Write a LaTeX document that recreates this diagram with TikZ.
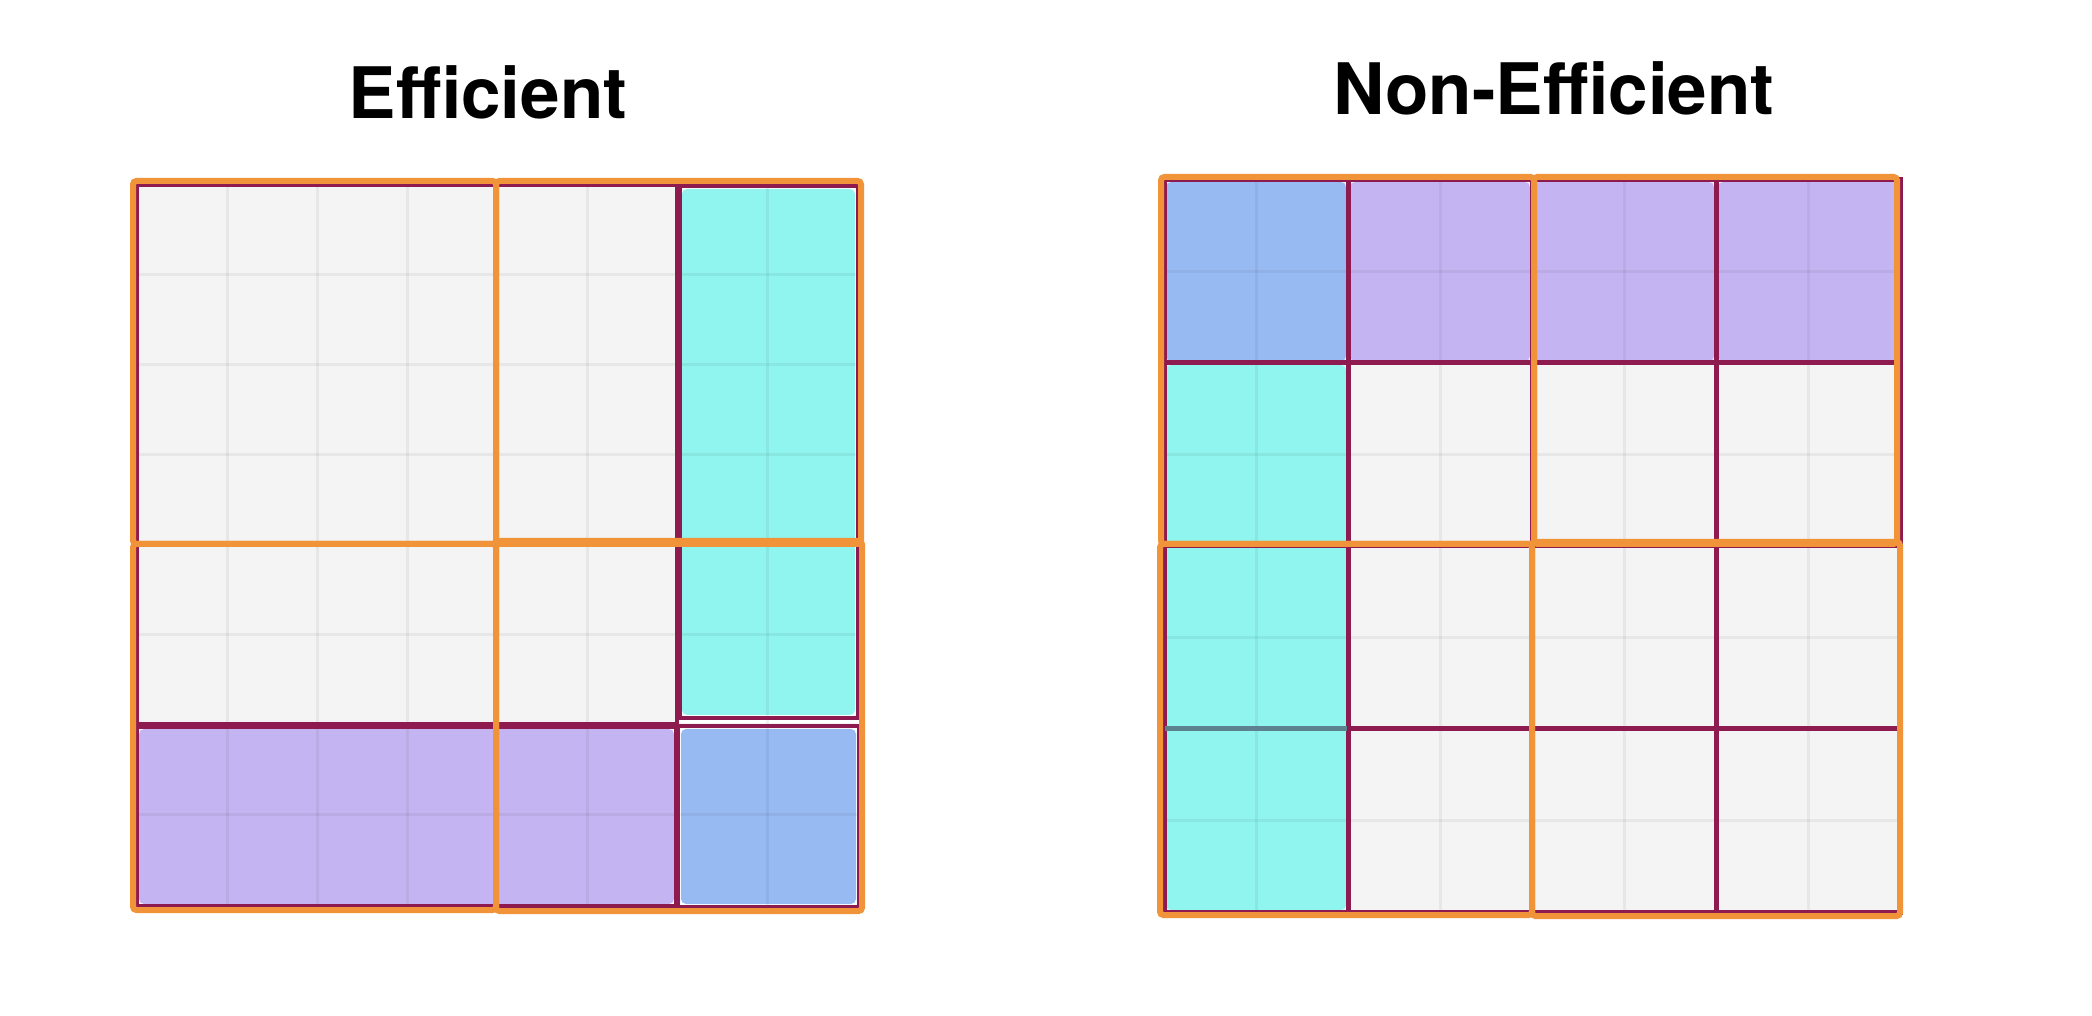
\documentclass[tikz,border=0pt]{standalone}
\usepackage{fontspec}
\setmainfont{TeX Gyre Heros}
\definecolor{cellwhite}{HTML}{F4F4F4}
\definecolor{tealfill}{HTML}{90F5EE}
\definecolor{purplefill}{HTML}{C4B5F2}
\definecolor{bluefill}{HTML}{98BAF3}
\definecolor{tilemaroon}{HTML}{8E1B50}
\definecolor{tileorange}{HTML}{F19439}
\definecolor{tealline}{HTML}{5C8290}
\begin{document}
\begin{tikzpicture}[x=0.3pt,y=-0.3pt,
  colfill/.style={fill=#1, rounded corners=1.5pt},
  cellline/.style={draw=black, draw opacity=0.05, line width=0.9pt},
  tileborder/.style={draw=tilemaroon, line width=1.1pt},
  maroonline/.style={draw=tilemaroon, line width=1.5pt},
  orangebox/.style={draw=tileorange, line width=1.8pt, rounded corners=1pt},
  headline/.style={font=\bfseries\fontsize{21.3}{24}\selectfont, anchor=base}]
\useasboundingbox[fill=white] (0,0) rectangle (2092,1016);

% titles
\node[headline] (t1) at (488,119) {Efficient};
\node[headline] (t2) at (1554,115) {Non-Efficient};

% ---------- left grid (efficient) ----------
\fill[cellwhite] (137,185) rectangle (677,724);
\fill[colfill=tealfill] (682,189) rectangle (855,715);
\fill[colfill=purplefill] (139,729) rectangle (674,904);
\fill[colfill=bluefill] (681,729) rectangle (856,904);
\foreach \i in {1,...,7} {
  \draw[cellline] ({137+90*\i},186) -- ({137+90*\i},905);
  \draw[cellline] (138,{185+90*\i}) -- (857,{185+90*\i});
}
\draw[tileborder] (137,185) rectangle (677,724);
\draw[tileborder] (680,186) rectangle (858,718);
\draw[tileborder] (137,727) rectangle (676,906);
\draw[tileborder] (678,726) rectangle (859,907);

\draw[orangebox] (133,181) rectangle (496,544);
\draw[orangebox] (496,181) rectangle (861,544);
\draw[orangebox] (133,544) rectangle (496,910);
\draw[orangebox] (496,541) rectangle (862,911);

% ---------- right grid (non-efficient) ----------
\fill[cellwhite] (1164,180) rectangle (1900,912);
\fill[colfill=bluefill] (1166,182) rectangle (1346,361);
\fill[colfill=purplefill] (1350,182) rectangle (1530,361);
\fill[colfill=purplefill] (1534,182) rectangle (1714,361);
\fill[colfill=purplefill] (1718,182) rectangle (1898,361);
\fill[colfill=tealfill] (1166,365) rectangle (1346,910);
\foreach \i in {1,...,7} {
  \draw[cellline] ({1164+92*\i},181) -- ({1164+92*\i},911);
  \draw[cellline] (1165,{180+91.5*\i}) -- (1899,{180+91.5*\i});
}
\draw[maroonline] (1164,180) rectangle (1900,912);
\draw[maroonline] (1348,180) -- (1348,912);
\draw[maroonline] (1532,180) -- (1532,912);
\draw[maroonline] (1716,180) -- (1716,912);
\draw[maroonline] (1164,363) -- (1900,363);
\draw[maroonline] (1164,546) -- (1900,546);
\draw[maroonline] (1348,729) -- (1900,729);
\draw[draw=tealline, line width=1.5pt] (1165,729) -- (1347,729);

\draw[orangebox] (1161,177) rectangle (1534,544);
\draw[orangebox] (1534,177) rectangle (1897,544);
\draw[orangebox] (1160,544) rectangle (1532,915);
\draw[orangebox] (1532,542) rectangle (1900,916);
\end{tikzpicture}
\end{document}
